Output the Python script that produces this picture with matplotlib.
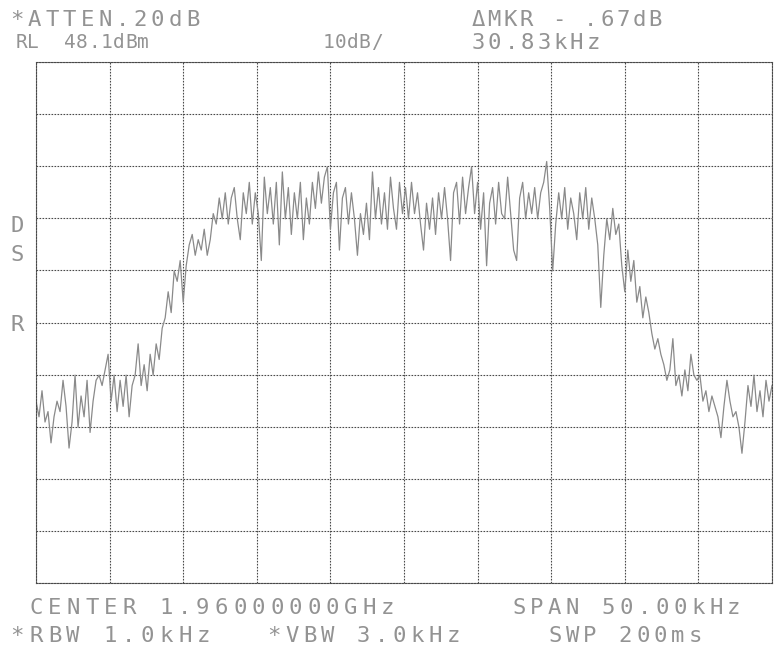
import numpy as np
import matplotlib
matplotlib.use("Agg")
import matplotlib.pyplot as plt

# analyzer settings
ref_level = 48.1      # dBm, top graticule line
db_per_div = 10
span_khz = 50.0

# trace levels (dBm), one per sweep point, left to right
level = [
    -17, -20, -15, -21, -19, -25, -20, -17, -19, -13,
    -18, -26, -21, -12, -22, -16, -20, -13, -23, -17,
    -13, -12, -14, -11, -8, -17, -12, -19, -13, -18,
    -12, -20, -14, -12, -6, -14, -10, -15, -8, -12,
    -6, -9, -3, -1, 4, 0, 8, 6, 10, 2,
    9, 13, 15, 11, 14, 12, 16, 11, 14, 19,
    17, 22, 18, 23, 17, 22, 24, 18, 14, 23,
    19, 25, 17, 23, 19, 10, 26, 19, 24, 17,
    25, 13, 27, 18, 24, 15, 23, 18, 25, 14,
    22, 17, 25, 20, 27, 21, 26, 28, 16, 23,
    25, 12, 22, 24, 17, 23, 18, 11, 19, 15,
    21, 14, 27, 18, 24, 17, 23, 16, 26, 20,
    16, 25, 19, 24, 18, 25, 19, 23, 17, 12,
    21, 16, 22, 15, 23, 18, 24, 18, 10, 23,
    25, 17, 26, 19, 24, 28, 19, 25, 16, 23,
    9, 21, 24, 17, 25, 19, 18, 26, 19, 12,
    10, 22, 25, 18, 23, 19, 24, 18, 23, 25,
    29, 20, 8, 17, 23, 18, 24, 16, 22, 19,
    14, 23, 18, 24, 16, 22, 18, 13, 1, 11,
    18, 14, 20, 15, 17, 9, 4, 12, 6, 10,
    2, 5, -1, 3, 0, -4, -7, -5, -8, -10,
    -13, -11, -5, -14, -12, -16, -11, -15, -8, -12,
    -13, -12, -17, -15, -19, -16, -18, -20, -24, -18,
    -13, -17, -20, -19, -22, -27, -21, -14, -18, -12,
    -19, -15, -20, -13, -17, -14,
]

freq = np.linspace(-span_khz / 2, span_khz / 2, len(level))

TXT = "#939393"
GRID = "#4a4a4a"

fig = plt.figure(figsize=(7.75, 6.5), dpi=100)
ax = fig.add_axes([36 / 775, 67 / 650, 736 / 775, 521 / 650])

ax.plot(freq, level, color="#8a8a8a", lw=0.9)

ax.set_xlim(-span_khz / 2, span_khz / 2)
ax.set_ylim(ref_level - 10 * db_per_div, ref_level)
ax.set_xticks(np.arange(-25, 26, 5))
ax.set_yticks(ref_level - db_per_div * np.arange(11))
ax.grid(True, color=GRID, lw=0.8, ls=(0, (1.5, 1.2)))
ax.tick_params(length=0, labelbottom=False, labelleft=False)
for s in ax.spines.values():
    s.set_color(GRID)
    s.set_linewidth(0.8)
    s.set_linestyle((0, (1.5, 1.2)))


def dm_text(x, y, s, pitch, size=16):
    # place characters one by one on a fixed pitch, like the analyzer's dot-matrix font
    for i, ch in enumerate(s):
        if ch == " ":
            continue
        fig.text((x + (i + 0.5) * pitch) / 775, 1 - y / 650, ch, ha="center", va="center",
                 family="DejaVu Sans Mono", fontsize=size, color=TXT)


dm_text(8, 20, "*ATTEN.20dB", 17.6)
dm_text(15, 43, "RL  48.1dBm", 12.2, 14)
dm_text(322, 43, "10dB/", 12.2, 14)
dm_text(470, 20, "ΔMKR - .67dB", 16.1)
dm_text(470, 43, "30.83kHz", 16.4)

dm_text(10, 226, "D", 14)
dm_text(10, 255, "S", 14)
dm_text(10, 325, "R", 14)

dm_text(27, 608, "CENTER 1.96000000GHz", 18.5)
dm_text(510, 608, "SPAN 50.00kHz", 17.9)
dm_text(8, 636, "*RBW 1.0kHz", 18.6)
dm_text(265, 636, "*VBW 3.0kHz", 17.9)
dm_text(546, 636, "SWP 200ms", 17.6)

fig.savefig("out.png", dpi=100)
